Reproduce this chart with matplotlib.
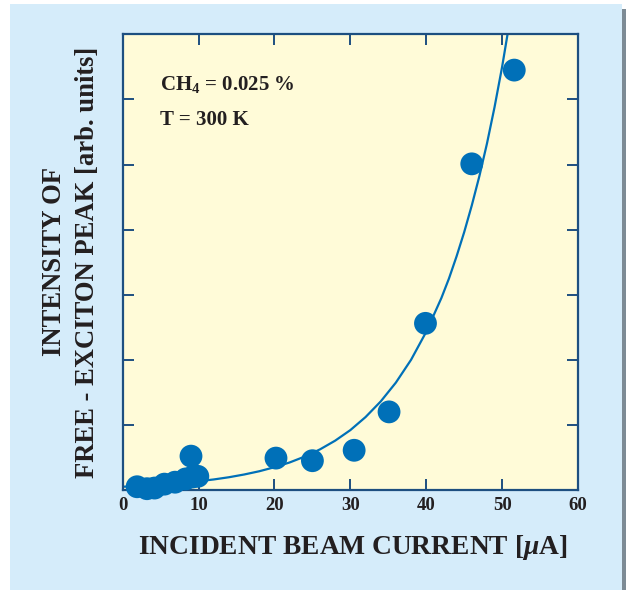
import matplotlib
matplotlib.use("Agg")
import matplotlib.pyplot as plt
from matplotlib.patches import Rectangle

# ---- data ----
current_uA = [1.9, 3.2, 4.2, 5.5, 6.9, 8.3, 9.2, 9.9, 9.0,
              20.2, 25.0, 30.5, 35.1, 39.9, 46.0, 51.6]
intensity = [0.05, 0.02, 0.03, 0.09, 0.12, 0.17, 0.20, 0.21, 0.52,
             0.49, 0.45, 0.61, 1.20, 2.56, 5.01, 6.45]

# fitted curve
curve_x = [0, 2, 4, 6, 8, 10, 12, 14, 16, 18, 20, 22, 24, 26, 28, 30, 32, 34, 36,
           38, 40, 42, 43, 44, 45, 46, 47, 48, 49, 50, 51, 52]
curve_y = [0.05, 0.06, 0.074, 0.09, 0.11, 0.135, 0.162, 0.196, 0.238, 0.288, 0.35,
           0.423, 0.514, 0.624, 0.758, 0.92, 1.12, 1.36, 1.65, 2.0, 2.43, 2.95, 3.25,
           3.59, 3.96, 4.37, 4.82, 5.32, 5.88, 6.5, 7.2, 7.95]

x_ticks = [0, 10, 20, 30, 40, 50, 60]
y_ticks = [0, 1, 2, 3, 4, 5, 6, 7]

plt.rcParams['mathtext.fontset'] = 'custom'
plt.rcParams['mathtext.rm'] = 'Liberation Serif:bold'
plt.rcParams['mathtext.bf'] = 'Liberation Serif:bold'
plt.rcParams['mathtext.it'] = 'Liberation Serif:italic:bold'

W, H = 626, 590
fig = plt.figure(figsize=(W / 100, H / 100), dpi=100)
fig.patch.set_facecolor('white')

# background panel and shadow
fig.patches.append(Rectangle((622 / W, 0), 4 / W, (H - 9) / H, transform=fig.transFigure,
                             facecolor='#7d8b95', edgecolor='none', zorder=-3))
fig.patches.append(Rectangle((10 / W, 0), 612 / W, (H - 3.6) / H, transform=fig.transFigure,
                             facecolor='#d5ecfa', edgecolor='none', zorder=-2))

ax = fig.add_axes([122.7 / W, 1 - 490 / H, (578 - 122.7) / W, (490 - 34.3) / H])
ax.set_facecolor('#fffbd8')

line_c = '#0070b8'
ax.plot(curve_x, curve_y, color=line_c, lw=1.6, zorder=2, clip_on=True)
ax.scatter(current_uA, intensity, s=270, color='#0070b8', edgecolors='none',
           zorder=3, clip_on=False)

ax.set_xlim(0, 60)
ax.set_ylim(0, 7)
ax.set_xticks(x_ticks)
ax.set_yticks(y_ticks)
ax.set_yticklabels([])
spine_c = '#1d4f80'
for s in ax.spines.values():
    s.set_color(spine_c)
    s.set_linewidth(1.6)
ax.tick_params(axis='both', direction='in', length=8, width=1.4, color=spine_c,
               top=True, right=True)
ax.tick_params(axis='x', pad=5)
for lab in ax.get_xticklabels():
    lab.set_fontfamily('Liberation Serif')
    lab.set_fontweight('bold')
    lab.set_fontsize(13.5)
    lab.set_color('#231f20')

txt_kw = dict(fontfamily='Liberation Serif', fontweight='bold', color='#231f20')
ax.text(4.9, 6.14, 'CH$_{\\mathbf{4}}$ = 0.025 %', fontsize=15, ha='left', va='baseline', **txt_kw)
ax.text(4.9, 5.61, 'T = 300 K', fontsize=15, ha='left', va='baseline', **txt_kw)

fig.text((137 + 568) / 2 / W, 1 - 547 / H, 'INCIDENT BEAM CURRENT [$\\mu$A]',
         fontsize=19.8, ha='center', va='center', **txt_kw)
fig.text(55 / W, 1 - 262 / H, 'INTENSITY OF', rotation=90, fontsize=19.2,
         ha='center', va='center', **txt_kw)
fig.text(88 / W, 1 - 262 / H, 'FREE - EXCITON PEAK [arb. units]', rotation=90, fontsize=19.2,
         ha='center', va='center', **txt_kw)

fig.savefig('out.png', dpi=100, facecolor=fig.get_facecolor())
